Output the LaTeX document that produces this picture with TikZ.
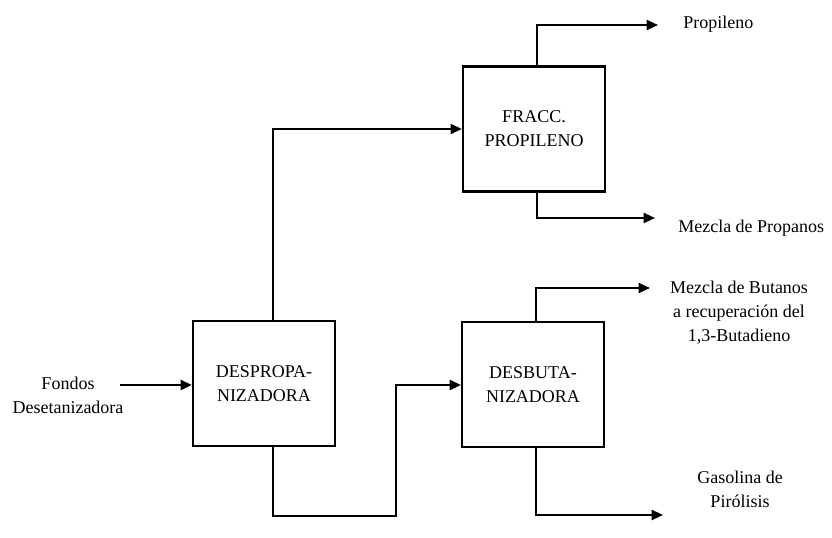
\documentclass[tikz,border=0pt]{standalone}
\usepackage{fontspec}
\setmainfont{Liberation Serif}
\usetikzlibrary{arrows.meta,calc}
\begin{document}
\begin{tikzpicture}[x=0.75pt,y=-0.75pt,
  unit/.style={draw,line width=1.6pt,minimum width=106.5pt,minimum height=93.75pt,inner sep=0pt,align=center,
    font=\fontsize{13.5}{18}\selectfont},
  lbl/.style={align=center,inner sep=0pt,font=\fontsize{13.5}{18}\selectfont},
  flow/.style={line width=1.6pt},
  arr/.style={flow,-{Triangle[length=8.5pt,width=7.5pt]}}]
\useasboundingbox (0,0) rectangle (832,538);
\node[unit] (dp) at (264,383.5) {DESPROPA-\\NIZADORA};
\node[unit] (fr) at (534,129) {FRACC.\\PROPILENO};
\node[unit] (db) at (533,384.5) {DESBUTA-\\NIZADORA};
% feed
\node[lbl] (fondos) at (68,395) {Fondos\\Desetanizadora};
\coordinate (fin) at (120,385);
\draw[arr] (fin) -- (fin -| dp.west);
% DESPROPA -> FRACC
\coordinate (xa) at (273,0);
\draw[arr] (dp.north -| xa) |- (fr.west);
% DESPROPA -> DESBUTA
\coordinate (lowA) at (273,516);
\coordinate (xb) at (396,385);
\draw[arr] (dp.south -| xa) -- (lowA) -| (xb) -- (xb -| db.west);
% FRACC outputs
\coordinate (xf) at (537,0);
\coordinate (tp) at (658,25);
\draw[arr] (fr.north -| xf) |- (tp);
\node[lbl,anchor=west] (prop) at (683,24) {Propileno};
\coordinate (tm) at (655,218);
\draw[arr] (fr.south -| xf) |- (tm);
\node[lbl,anchor=west] (mprop) at (678,228) {Mezcla de Propanos};
% DESBUTA outputs
\coordinate (xd) at (536,0);
\coordinate (tb) at (650,288);
\draw[arr] (db.north -| xd) |- (tb);
\node[lbl] (mbut) at (739,313) {Mezcla de Butanos\\a recuperación del\\1,3-Butadieno};
\coordinate (tg) at (663,515);
\draw[arr] (db.south -| xd) |- (tg);
\node[lbl] (gas) at (740,489) {Gasolina de\\Pirólisis};
\end{tikzpicture}
\end{document}
